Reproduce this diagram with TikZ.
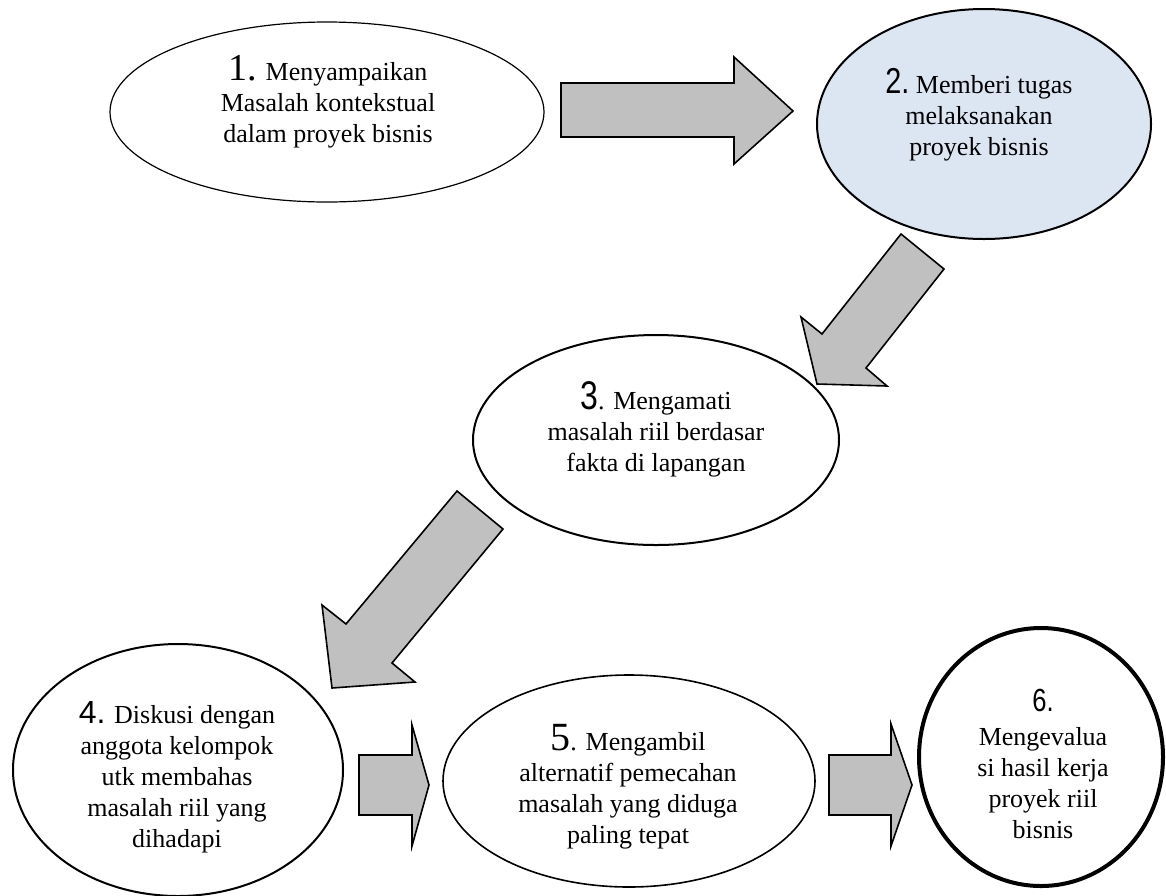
\documentclass[tikz,border=0pt]{standalone}
\usepackage{fontspec}
\usepackage{graphicx}
\setmainfont{Liberation Serif}
\newfontfamily\numsans{Liberation Sans}
\usetikzlibrary{shapes.geometric}
\newcommand\bignum[2]{{\fontsize{#1}{31}\selectfont #2}}
\newcommand\narrownum[2]{{\numsans\fontsize{#1}{31}\selectfont\scalebox{0.8}[1]{#2}}}
\definecolor{paleblue}{RGB}{220,230,242}
\definecolor{arrowgray}{RGB}{192,192,192}
\tikzset{
  oval/.style={draw=black, ellipse, inner sep=0pt, fill=white},
  txt/.style={align=center, inner sep=0pt, font=\fontsize{26}{31}\selectfont},
  blockarrow/.style={draw=black, fill=arrowgray, line width=1.6pt, line join=miter},
}
\begin{document}
\begin{tikzpicture}[x=1pt, y=-1pt]
\useasboundingbox (0,0) rectangle (1166,895);
\fill[white] (0,0) rectangle (1166,895);
% ellipses
\node[oval, line width=1.2pt, minimum width=434pt, minimum height=180pt] (e1) at (327,112) {};
\node[oval, line width=2pt, fill=paleblue, minimum width=334pt, minimum height=230pt] (e2) at (984,124) {};
\node[oval, line width=2pt, minimum width=366pt, minimum height=210pt] (e3) at (656,440) {};
\node[oval, line width=2pt, minimum width=330pt, minimum height=252pt] (e4) at (178,770) {};
\node[oval, line width=1.6pt, minimum width=372pt, minimum height=212pt] (e5) at (629,781) {};
\node[oval, line width=4pt, minimum width=244pt, minimum height=258pt] (e6) at (1041,757) {};
% texts
\node[txt] (t1) at (328,102) {\bignum{38}{1.} Menyampaikan\\ Masalah kontekstual\\ dalam proyek bisnis};
\node[txt] (t2) at (979,115) {\narrownum{36}{2.} Memberi tugas\\ melaksanakan\\ proyek bisnis};
\node[txt] (t3) at (656,429) {\narrownum{40}{3}. Mengamati\\ masalah riil berdasar\\ fakta di lapangan};
\node[txt] (t4) at (177,777) {{\numsans\fontsize{32}{31}\selectfont 4.} Diskusi dengan\\ anggota kelompok\\ utk membahas\\ masalah riil yang\\ dihadapi};
\node[txt] (t5) at (628,787) {\bignum{40}{5}. Mengambil\\ alternatif pemecahan\\ masalah yang diduga\\ paling tepat};
\node[txt] (t6) at (1043,764) {\narrownum{32}{6.}\\[3pt] Mengevalua\\ si hasil kerja\\ proyek riil\\ bisnis};
% block arrows
\draw[blockarrow] (561,83) -- (734,83) -- (734,57) -- (793,111) -- (734,164) -- (734,137) -- (561,137) -- cycle;
\draw[blockarrow] (901,234) -- (944,269) -- (866,368) -- (887,386) -- (817,384) -- (801,317) -- (822,334) -- cycle;
\draw[blockarrow] (457,491) -- (503,529) -- (392,663) -- (415,682) -- (332,688) -- (322,605) -- (346,624) -- cycle;
\draw[blockarrow] (359,755) -- (412,755) -- (412,725) -- (429,785) -- (412,846) -- (412,815) -- (359,815) -- cycle;
\draw[blockarrow] (829,755) -- (891,755) -- (891,724) -- (912,785) -- (891,846) -- (891,815) -- (829,815) -- cycle;
\end{tikzpicture}
\end{document}
